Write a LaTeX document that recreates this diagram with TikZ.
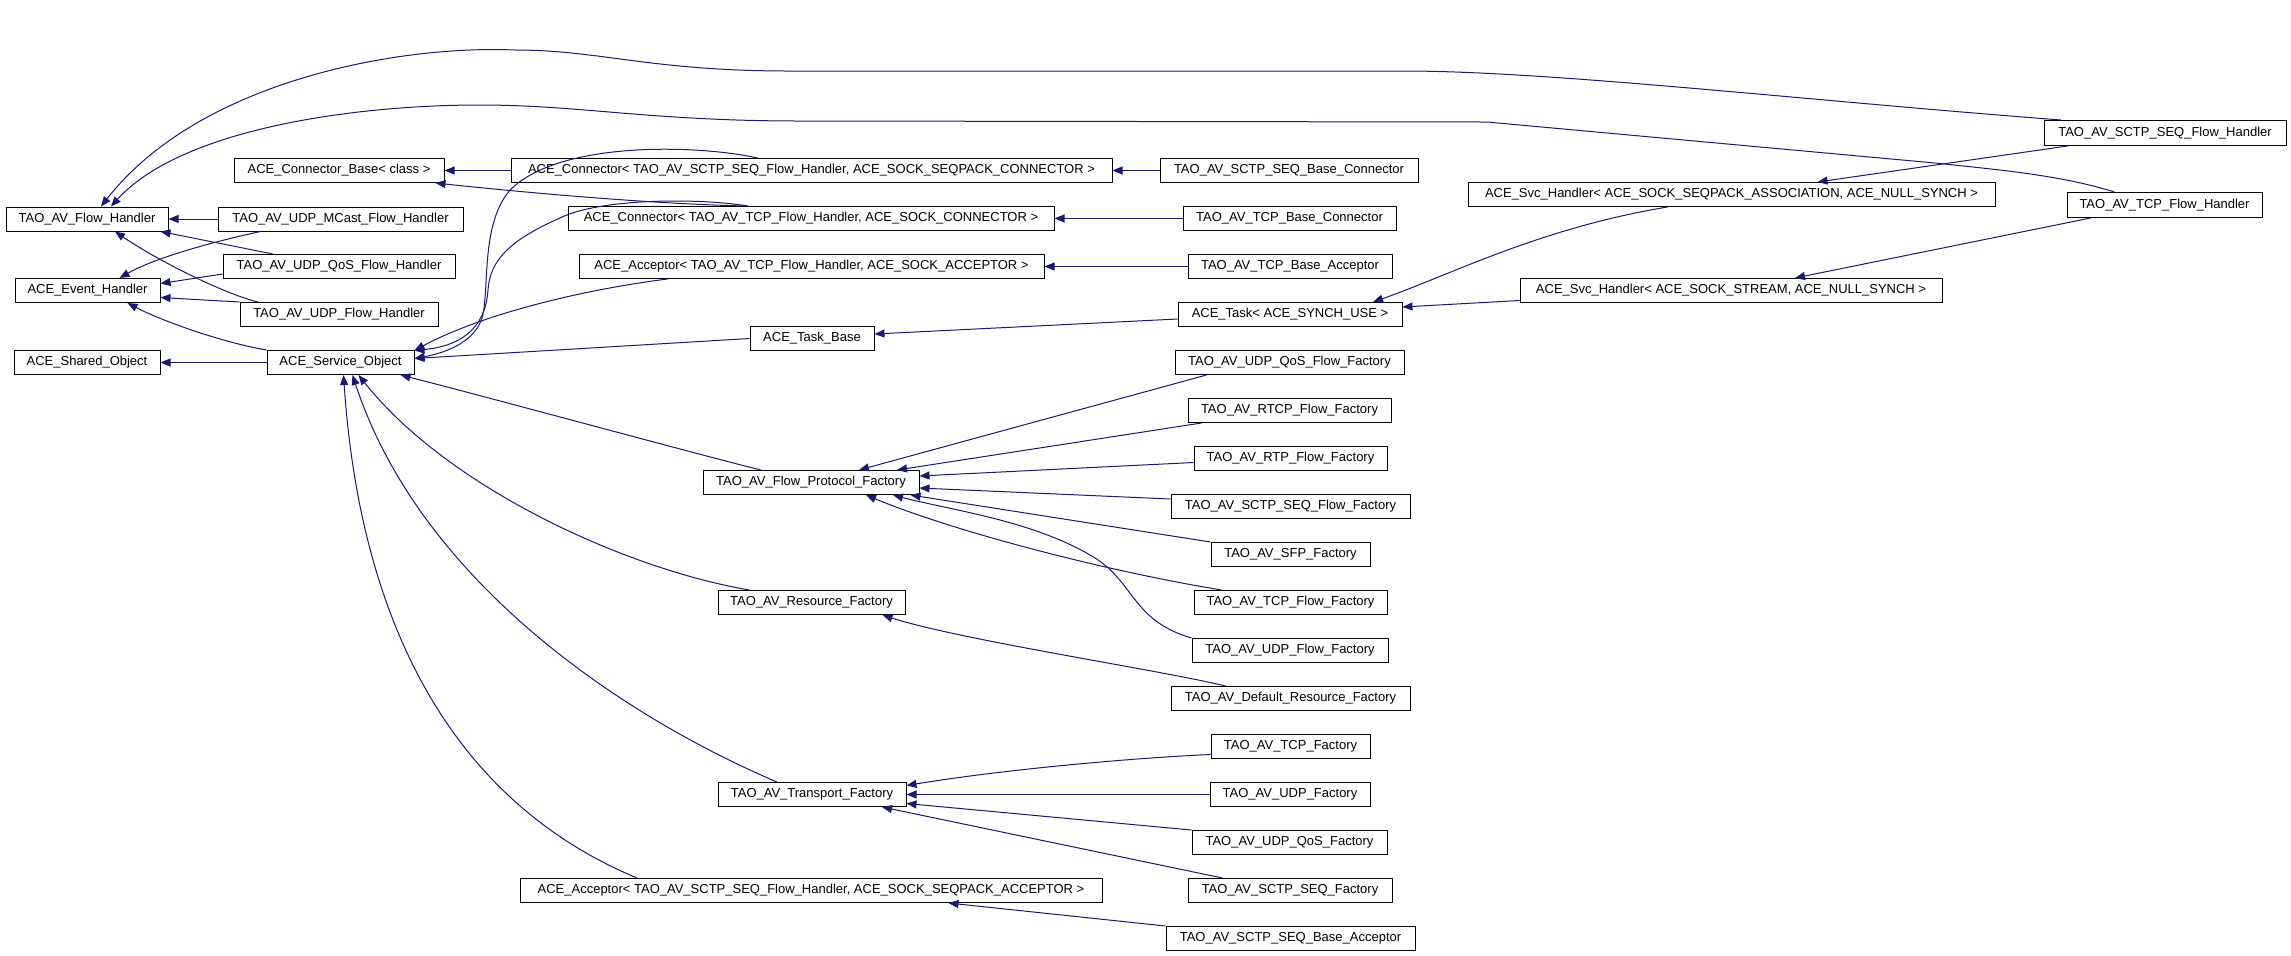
\documentclass[tikz,border=0pt]{standalone}
\usepackage{fontspec}
\setmainfont{Liberation Sans}
\usetikzlibrary{arrows.meta}
\definecolor{dxblue}{HTML}{191970}

\begin{document}
\begin{tikzpicture}[x=0.5pt,y=-0.5pt,>={Triangle[length=5pt,width=4pt]},
  font=\fontsize{6.5pt}{7.8pt}\selectfont]
\tikzstyle{cls}=[draw=black,line width=0.5pt,fill=white,minimum height=12pt,
  inner sep=0pt,align=center]
\tikzstyle{inh}=[->,color=dxblue,line width=0.5pt]

\useasboundingbox (0,0) rectangle (2291,955);

\node[cls,minimum width=81pt] (flowhandler) at (87,219) {TAO\_AV\_Flow\_Handler};
\node[cls,minimum width=72.5pt] (eventhandler) at (87.5,290.5) {ACE\_Event\_Handler};
\node[cls,minimum width=73pt] (sharedobj) at (87,362.5) {ACE\_Shared\_Object};
\node[cls,minimum width=105pt] (connbase) at (339,170.5) {ACE\_Connector\_Base< class >};
\node[cls,minimum width=122.5pt] (mcast) at (340.5,219) {TAO\_AV\_UDP\_MCast\_Flow\_Handler};
\node[cls,minimum width=116pt] (udpqos) at (339,266.5) {TAO\_AV\_UDP\_QoS\_Flow\_Handler};
\node[cls,minimum width=99pt] (udpflow) at (339,314.5) {TAO\_AV\_UDP\_Flow\_Handler};
\node[cls,minimum width=73.5pt] (serviceobj) at (340.5,362.5) {ACE\_Service\_Object};

\node[cls,minimum width=300.5pt] (connsctp) at (811.5,170.5)
  {ACE\_Connector< TAO\_AV\_SCTP\_SEQ\_Flow\_Handler, ACE\_SOCK\_SEQPACK\_CONNECTOR >};
\node[cls,minimum width=243pt] (conntcp) at (811,218.5)
  {ACE\_Connector< TAO\_AV\_TCP\_Flow\_Handler, ACE\_SOCK\_CONNECTOR >};
\node[cls,minimum width=232.5pt] (acctcp) at (811.5,266.5)
  {ACE\_Acceptor< TAO\_AV\_TCP\_Flow\_Handler, ACE\_SOCK\_ACCEPTOR >};
\node[cls,minimum width=62pt] (taskbase) at (812,338.5) {ACE\_Task\_Base};
\node[cls,minimum width=108pt] (flowproto) at (811,482.5) {TAO\_AV\_Flow\_Protocol\_Factory};
\node[cls,minimum width=93.5pt] (resource) at (811.5,602.5) {TAO\_AV\_Resource\_Factory};
\node[cls,minimum width=94pt] (transport) at (812,794.5) {TAO\_AV\_Transport\_Factory};
\node[cls,minimum width=291pt] (accsctp) at (811,890.5)
  {ACE\_Acceptor< TAO\_AV\_SCTP\_SEQ\_Flow\_Handler, ACE\_SOCK\_SEQPACK\_ACCEPTOR >};

\node[cls,minimum width=129pt] (sctpbaseconn) at (1289,170.5) {TAO\_AV\_SCTP\_SEQ\_Base\_Connector};
\node[cls,minimum width=106.5pt] (tcpbaseconn) at (1289.5,218.5) {TAO\_AV\_TCP\_Base\_Connector};
\node[cls,minimum width=102pt] (tcpbaseacc) at (1290,266.5) {TAO\_AV\_TCP\_Base\_Acceptor};
\node[cls,minimum width=112pt] (task) at (1290,314.5) {ACE\_Task< ACE\_SYNCH\_USE >};
\node[cls,minimum width=114.5pt] (qosflowfac) at (1289.5,362.5) {TAO\_AV\_UDP\_QoS\_Flow\_Factory};
\node[cls,minimum width=101.5pt] (rtcpfac) at (1289.5,410.5) {TAO\_AV\_RTCP\_Flow\_Factory};
\node[cls,minimum width=96.5pt] (rtpfac) at (1290.5,458.5) {TAO\_AV\_RTP\_Flow\_Factory};
\node[cls,minimum width=119.5pt] (sctpflowfac) at (1290.5,506.5) {TAO\_AV\_SCTP\_SEQ\_Flow\_Factory};
\node[cls,minimum width=79.5pt] (sfpfac) at (1290.5,554.5) {TAO\_AV\_SFP\_Factory};
\node[cls,minimum width=96.5pt] (tcpflowfac) at (1290.5,602.5) {TAO\_AV\_TCP\_Flow\_Factory};
\node[cls,minimum width=98pt] (udpflowfac) at (1290,650.5) {TAO\_AV\_UDP\_Flow\_Factory};
\node[cls,minimum width=119.5pt] (defresfac) at (1290.5,698.5) {TAO\_AV\_Default\_Resource\_Factory};
\node[cls,minimum width=79.5pt] (tcpfac) at (1290.5,746.5) {TAO\_AV\_TCP\_Factory};
\node[cls,minimum width=80pt] (udpfac) at (1290,794.5) {TAO\_AV\_UDP\_Factory};
\node[cls,minimum width=97.5pt] (udpqosfac) at (1289.5,842.5) {TAO\_AV\_UDP\_QoS\_Factory};
\node[cls,minimum width=102pt] (sctpfac) at (1290,890.5) {TAO\_AV\_SCTP\_SEQ\_Factory};
\node[cls,minimum width=124.5pt] (sctpbaseacc) at (1290.5,938.5) {TAO\_AV\_SCTP\_SEQ\_Base\_Acceptor};

\node[cls,minimum width=263.5pt] (svcseqpack) at (1731.5,194.5)
  {ACE\_Svc\_Handler< ACE\_SOCK\_SEQPACK\_ASSOCIATION, ACE\_NULL\_SYNCH >};
\node[cls,minimum width=211pt] (svcstream) at (1731,290.5)
  {ACE\_Svc\_Handler< ACE\_SOCK\_STREAM, ACE\_NULL\_SYNCH >};
\node[cls,minimum width=121pt,minimum height=12.5pt] (sctpflowh) at (2165,133) {TAO\_AV\_SCTP\_SEQ\_Flow\_Handler};
\node[cls,minimum width=97.5pt,minimum height=12.5pt] (tcpflowh) at (2164.5,205) {TAO\_AV\_TCP\_Flow\_Handler};

\draw[inh] ([xshift=-52pt]sctpflowh.north) .. controls (1800,100) and (1550,71) .. (1403,71)
  -- (789,71) .. controls (650,71) and (600,50) .. (515,50)
  .. controls (400,45) and (200,80) .. ([xshift=7pt]flowhandler.north);
\draw[inh] ([xshift=-25pt]tcpflowh.north) .. controls (2060,175) and (2000,170) .. (1935,163)
  -- (1487,122) -- (800,121) .. controls (650,121) and (580,105) .. (480,105)
  .. controls (350,105) and (180,130) .. ([xshift=12pt]flowhandler.north);
\draw[inh] (mcast.west) -- (flowhandler.east);
\draw[inh] ([xshift=-33pt]udpqos.north) -- ([xshift=-4pt]flowhandler.south east);
\draw[inh] ([xshift=-40.5pt]udpflow.north) .. controls (225,294) and (160,262)
  .. ([xshift=14pt]flowhandler.south);
\draw[inh] ([xshift=-40pt]mcast.south) .. controls (230,238) and (160,255)
  .. ([xshift=16pt]eventhandler.north);
\draw[inh] ([yshift=2.5pt]udpqos.south west) -- ([yshift=3.5pt]eventhandler.east);
\draw[inh] (udpflow.north west) -- ([yshift=-3.5pt]eventhandler.east);
\draw[inh] (serviceobj.north west) .. controls (220,342) and (160,320)
  .. ([xshift=20pt]eventhandler.south);
\draw[inh] (serviceobj.west) -- (sharedobj.east);

\draw[inh] (connsctp.west) -- (connbase.east);
\draw[inh] ([xshift=-32pt]conntcp.north) .. controls (650,204) and (520,192)
  .. ([xshift=-4.5pt]connbase.south east);
\draw[inh] ([xshift=-27pt]connsctp.north) .. controls (700,145) and (560,140) .. (510,190)
  .. controls (480,225) and (490,290) .. (482,318)
  .. controls (475,340) and (450,352) .. ([yshift=2pt]serviceobj.east);
\draw[inh] ([xshift=-31.5pt]conntcp.north) .. controls (700,198) and (600,198) .. (560,218)
  .. controls (510,240) and (490,260) .. (488,290)
  .. controls (486,320) and (470,345) .. ([yshift=6pt]serviceobj.east);
\draw[inh] ([xshift=-72pt]acctcp.south) .. controls (580,290) and (480,315)
  .. ([yshift=6pt]serviceobj.east);
\draw[inh] (taskbase.west) -- ([yshift=2pt]serviceobj.east);
\draw[inh] ([yshift=-2.25pt]task.west) -- ([yshift=2.25pt]taskbase.east);
\draw[inh] (sctpbaseconn.west) -- (connsctp.east);
\draw[inh] (tcpbaseconn.west) -- (conntcp.east);
\draw[inh] (tcpbaseacc.west) -- (acctcp.east);

\draw[inh] ([xshift=-32pt]svcseqpack.south) .. controls (1540,228) and (1450,275)
  .. ([xshift=41.5pt]task.north);
\draw[inh] ([yshift=-5pt]svcstream.west) -- ([yshift=3.75pt]task.east);
\draw[inh] ([xshift=12pt]sctpflowh.south west) -- ([xshift=43pt]svcseqpack.north);
\draw[inh] ([xshift=-37pt]tcpflowh.south) -- ([xshift=32pt]svcstream.north);

\draw[inh] ([xshift=-25pt]flowproto.north) .. controls (700,455) and (480,395)
  .. ([xshift=30pt]serviceobj.south);
\draw[inh] ([xshift=-31pt]resource.north) .. controls (630,570) and (450,490)
  .. ([xshift=9pt]serviceobj.south);
\draw[inh] ([xshift=-17.5pt]transport.north) .. controls (620,715) and (420,580)
  .. ([xshift=6pt]serviceobj.south);
\draw[inh] ([xshift=-87pt]accsctp.north) .. controls (450,800) and (360,620)
  .. ([xshift=1.5pt]serviceobj.south);

\draw[inh] ([xshift=16pt]qosflowfac.south west) -- ([xshift=24pt]flowproto.north);
\draw[inh] ([xshift=7pt]rtcpfac.south west) -- ([xshift=43pt]flowproto.north);
\draw[inh] ([yshift=-2pt]rtpfac.west) -- ([yshift=3.25pt]flowproto.east);
\draw[inh] ([yshift=3.75pt]sctpflowfac.west) -- ([yshift=-2.75pt]flowproto.east);
\draw[inh] (sfpfac.north west) -- ([xshift=-4.5pt]flowproto.south east);
\draw[inh] ([xshift=14pt]tcpflowfac.north west) .. controls (1100,570) and (950,530)
  .. ([xshift=27.5pt]flowproto.south);
\draw[inh] (udpflowfac.north west) .. controls (1130,620) and (1135,580) .. (1090,555)
  .. controls (1030,520) and (950,510) .. ([xshift=41pt]flowproto.south);
\draw[inh] ([xshift=27.5pt]defresfac.north west) .. controls (1160,670) and (960,640)
  .. ([xshift=-11.5pt]resource.south east);

\draw[inh] ([yshift=-4pt]tcpfac.west) .. controls (1130,758) and (1000,770)
  .. ([yshift=4.5pt]transport.east);
\draw[inh] (udpfac.west) -- (transport.east);
\draw[inh] (udpqosfac.north west) -- ([yshift=-4.5pt]transport.east);
\draw[inh] ([xshift=17.5pt]sctpfac.north west) -- ([xshift=35pt]transport.south);
\draw[inh] (sctpbaseacc.north west) -- ([xshift=-77pt]accsctp.south east);
\end{tikzpicture}
\end{document}
